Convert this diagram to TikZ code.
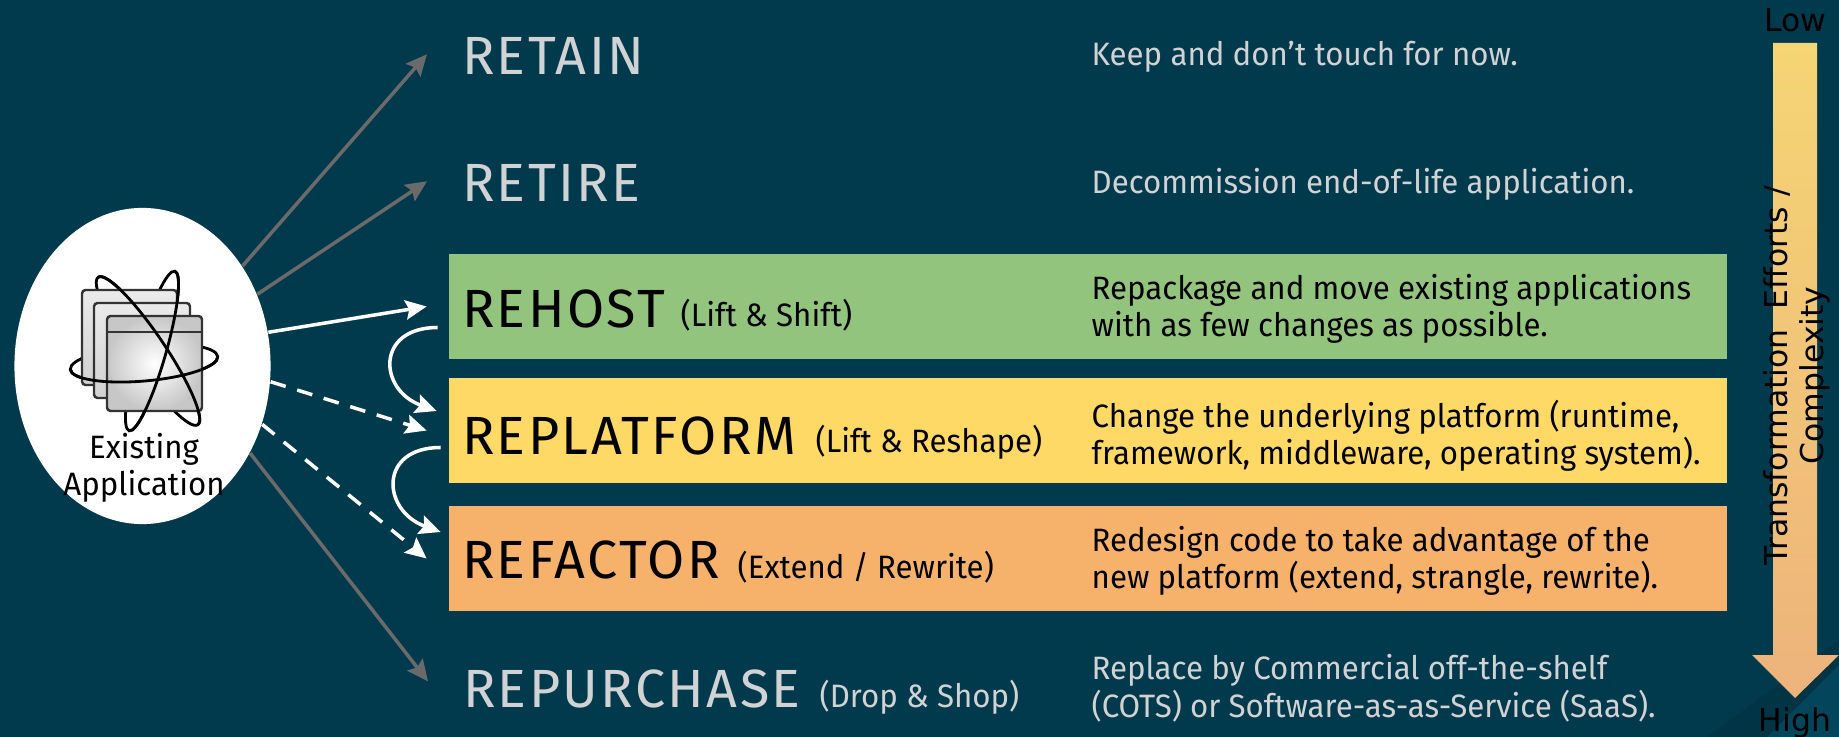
\documentclass[tikz,border=0pt]{standalone}
\usepackage{fontspec}
\setmainfont{Fira Sans}
\newfontfamily\headfont[LetterSpace=4.5]{Fira Sans}
\newfontfamily\bodyfont[FakeStretch=0.965]{Fira Sans}
\newfontfamily\scalefont{DejaVu Sans}
\usetikzlibrary{arrows.meta}
\usetikzlibrary{calc}
\usetikzlibrary{shapes.geometric}
\definecolor{slide}{HTML}{023A4D}
\definecolor{slidedark}{HTML}{013546}
\definecolor{slidelight}{HTML}{03455A}
\definecolor{hostgreen}{HTML}{93C47D}
\definecolor{platyellow}{HTML}{FFD966}
\definecolor{factorange}{HTML}{F6B26B}
\definecolor{pale}{HTML}{D0D2D4}
\definecolor{thinline}{HTML}{6A6A6A}
\definecolor{scaletop}{HTML}{F5D574}
\definecolor{scalelow}{HTML}{EDB37B}
\tikzset{
  strip/.style={rectangle,fill=#1,minimum width=12.78cm,minimum height=1.055cm,inner sep=0pt,outer xsep=0.22cm},
  title/.style={anchor=base west,inner xsep=0pt,outer xsep=0.35cm,font=\headfont\fontsize{15.3}{18}\selectfont},
  subtitle/.style={anchor=base west,inner sep=0pt,font=\bodyfont\fontsize{9.2}{11}\selectfont},
  blurb/.style={anchor=base west,inner sep=0pt,align=left,font=\bodyfont\fontsize{9.2}{10.8}\selectfont},
  scaletext/.style={inner sep=0pt,font=\scalefont\fontsize{8.95}{10.5}\selectfont},
  thinarrow/.style={draw=thinline,line width=1pt,-{Stealth[length=6pt,width=5.5pt,inset=1pt]}},
  whitearrow/.style={draw=white,line width=1pt,-{Stealth[length=6pt,width=5.5pt,inset=1pt]}},
  dasharrow/.style={whitearrow,dash pattern=on 4.5pt off 3.4pt},
  sheet/.style={draw=black!80,line width=0.7pt,rounded corners=1pt,top color=black!8,bottom color=black!18},
  orbit/.style={draw=black,line width=0.8pt},
}
\begin{document}
\begin{tikzpicture}[x=0.01cm,y=-0.01cm]
\useasboundingbox (0,0) rectangle (1839,737);
\fill[slide] (0,0) rectangle (1839,737);
\fill[slidedark] (1839,640) -- (1707,737) -- (1839,737) -- cycle;
\fill[slidelight] (1839,665) -- (1767,737) -- (1839,737) -- cycle;
% strips
\node[strip=hostgreen] (rehostbox) at (1088,306.5) {};
\node[strip=platyellow] (replatbox) at (1088,430.5) {};
\node[strip=factorange] (refactbox) at (1088,558.5) {};
% titles
\node[title,text=pale] (retain) at (427,75) {RETAIN};
\node[title,text=pale] (retire) at (427,202) {RETIRE};
\node[title] (rehost) at (427,328) {REHOST};
\node[title] (replat) at (427,455) {REPLATFORM};
\node[title] (refact) at (427,579) {REFACTOR};
\node[title,text=pale] (repurch) at (428,707) {REPURCHASE};
\node[subtitle] (rehostsub) at (680,327) {(Lift \& Shift)};
\node[subtitle] (replatsub) at (815,453) {(Lift \& Reshape)};
\node[subtitle] (refactsub) at (737,578) {(Extend / Rewrite)};
\node[subtitle,text=pale] (repurchsub) at (819,707) {(Drop \& Shop)};
% descriptions
\node[blurb,text=pale] (retaintext) at (1091,66) {Keep and don’t touch for now.};
\node[blurb,text=pale] (retiretext) at (1091,194) {Decommission end-of-life application.};
\node[blurb] (rehosttext) at (1091,337) {Repackage and move existing applications\\with as few changes as possible.};
\node[blurb] (replattext) at (1091,465) {Change the underlying platform (runtime,\\framework, middleware, operating system).};
\node[blurb] (refacttext) at (1091,589) {Redesign code to take advantage of the\\new platform (extend, strangle, rewrite).};
\node[blurb,text=pale] (repurchtext) at (1091,717) {Replace by Commercial off-the-shelf\\(COTS) or Software-as-as-Service (SaaS).};
% existing application
\node[ellipse,fill=white,minimum width=2.56cm,minimum height=3.16cm,inner sep=0pt] (app) at (142.5,366) {};
\draw[orbit] (144,363) ellipse [x radius=74,y radius=18,rotate=5];
\draw[orbit] (148,351) ellipse [x radius=89,y radius=17,rotate=-56];
\draw[orbit] (152,351) ellipse [x radius=83,y radius=14,rotate=74];
\draw[sheet] (82,290) rectangle (177,385);
\draw[sheet] (94,303) rectangle (190,398);
\draw[draw=black!80,line width=0.7pt,rounded corners=1pt,inner color=white,outer color=black!22] (107,316) rectangle (202,411);
\draw[draw=black!80,line width=0.7pt] (107,332) -- (202,332);
\begin{scope}[shift={(144,363)},rotate=5]
\draw[orbit] (74,0) arc [start angle=0,end angle=180,x radius=74,y radius=18];
\end{scope}
\begin{scope}[shift={(148,351)},rotate=-56]
\draw[orbit] (89,0) arc [start angle=0,end angle=-180,x radius=89,y radius=17];
\end{scope}
\begin{scope}[shift={(152,351)},rotate=74]
\draw[orbit] (83,0) arc [start angle=0,end angle=180,x radius=83,y radius=14];
\end{scope}
\node[anchor=base,inner sep=0pt,align=center,font=\bodyfont\fontsize{9.2}{10.6}\selectfont] (applabel) at (144,496) {Existing\\Application};
% connectors
\draw[thinarrow] (app.45) -- (retain.179);
\draw[thinarrow] (app.32) -- (retire.179);
\draw[thinarrow] (app.-39) -- (repurch.178);
\draw[whitearrow] (app.15) -- (rehostbox.west);
\draw[dasharrow] (app.-7) -- (replatbox.west);
\draw[dasharrow] (app.-26) -- (refactbox.west);
\draw[whitearrow] ($(rehostbox.west)+(11,21)$) to[out=180,in=160,looseness=1.9] ($(replatbox.west)+(10,-19.5)$);
\draw[whitearrow] ($(replatbox.west)+(14,17)$) to[out=180,in=160,looseness=1.9] ($(refactbox.west)+(14,-26.5)$);
% effort scale
\shade[top color=scaletop,bottom color=scalelow] (1773,43) -- (1817,43) -- (1817,655) -- (1839,655) -- (1795,698) -- (1752,655) -- (1773,655) -- cycle;
\node[scaletext,anchor=base] (lowtext) at (1795,32) {Low};
\node[scaletext,anchor=base] (hightext) at (1795,731) {High};
\node[scaletext,rotate=90,anchor=base west] (efforttext) at (1787,566) {Transformation~~Efforts /};
\node[scaletext,rotate=90,anchor=base west] (complextext) at (1823,465) {Complexity};
\end{tikzpicture}
\end{document}
